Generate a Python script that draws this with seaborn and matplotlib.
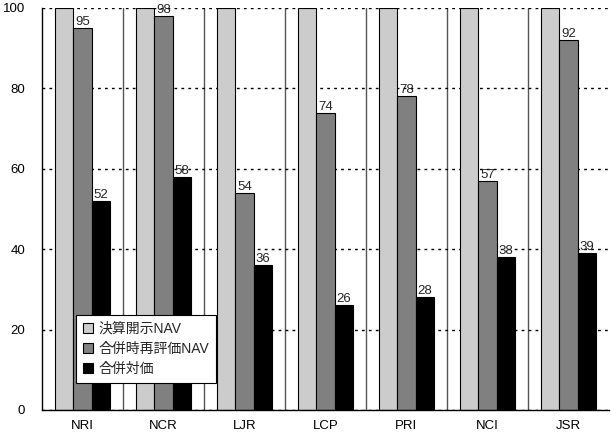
import matplotlib
matplotlib.use("Agg")
import matplotlib.pyplot as plt
import pandas as pd
import seaborn as sns

categories = ['NRI', 'NCR', 'LJR', 'LCP', 'PRI', 'NCI', 'JSR']
series = ['決算開示NAV', '合併時再評価NAV', '合併対価']
disclosed_nav = [100, 100, 100, 100, 100, 100, 100]
revalued_nav = [95, 98, 54, 74, 78, 57, 92]
merger_price = [52, 58, 36, 26, 28, 38, 39]
colors = ['#cccccc', '#808080', '#000000']

rows = []
for i, c in enumerate(categories):
    for s, vals in zip(series, [disclosed_nav, revalued_nav, merger_price]):
        rows.append({'cat': c, 'series': s, 'value': vals[i]})
df = pd.DataFrame(rows)

sns.set_style("white")
plt.rcParams['font.family'] = ['Liberation Sans', 'Noto Sans CJK JP']

fig = plt.figure(figsize=(6.11, 4.38), dpi=100)
ax = fig.add_axes([42 / 611, 28 / 438, 567 / 611, 402 / 438])

sns.barplot(data=df, x='cat', y='value', hue='series', order=categories,
            hue_order=series, palette=colors, edgecolor='black', linewidth=0.8,
            width=0.67, gap=0, saturation=1, ax=ax)

# value labels only for the two lower series
for cont in ax.containers[1:]:
    ax.bar_label(cont, fmt='%d', padding=0, fontsize=9.5)

for b in range(len(categories) - 1):
    ax.axvline(b + 0.5, color='#555555', lw=1, zorder=0.5)

ax.set_ylim(0, 100)
ax.set_xlim(-0.5, len(categories) - 0.5)
ax.set_yticks([0, 20, 40, 60, 80, 100])
ax.yaxis.grid(True, linestyle=(0, (2, 3)), color='black', lw=1)
ax.set_axisbelow(True)
ax.set_xlabel('')
ax.set_ylabel('')
ax.tick_params(axis='both', length=0, labelsize=9.5, colors='black')
ax.tick_params(axis='y', pad=12)
ax.tick_params(axis='x', pad=7)
for side in ['top', 'right']:
    ax.spines[side].set_visible(False)
for side in ['left', 'bottom']:
    ax.spines[side].set_color('black')
    ax.spines[side].set_linewidth(1)

leg = ax.legend(loc='lower left', bbox_to_anchor=(0.06, 0.067), borderaxespad=0,
                fontsize=10, frameon=True, fancybox=False, edgecolor='black',
                framealpha=1, handlelength=0.7, handleheight=0.7,
                handletextpad=0.4, borderpad=0.5, labelspacing=0.45)
leg.get_frame().set_linewidth(0.8)

fig.savefig('out.png', dpi=100)
